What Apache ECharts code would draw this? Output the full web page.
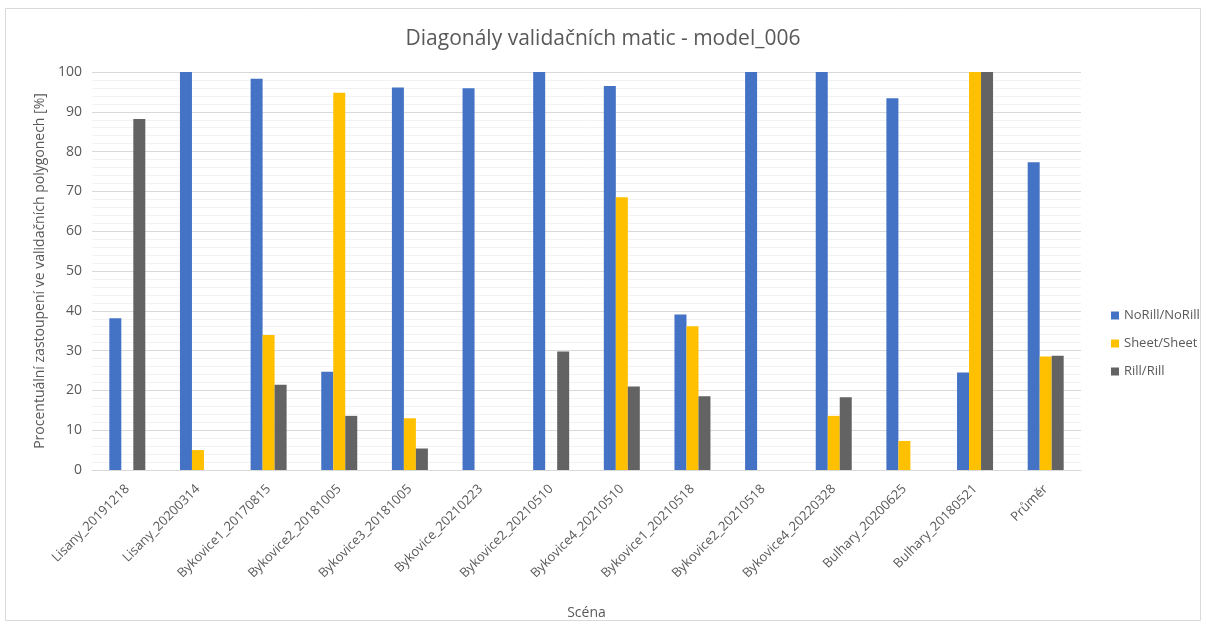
<!DOCTYPE html>
<html>
<head>
<meta charset="utf-8">
<script src="https://cdn.jsdelivr.net/npm/echarts@6/dist/echarts.min.js"></script>
<style>
  html, body { margin: 0; padding: 0; background: #fff; }
  #chart { width: 1206px; height: 628px; }
</style>
</head>
<body>
<div id="chart"></div>
<script>
// data
const sceny = [
  'Lisany_20191218', 'Lisany_20200314', 'Bykovice1_20170815', 'Bykovice2_20181005',
  'Bykovice3_20181005', 'Bykovice_20210223', 'Bykovice2_20210510', 'Bykovice4_20210510',
  'Bykovice1_20210518', 'Bykovice2_20210518', 'Bykovice4_20220328', 'Bulhary_20200625',
  'Bulhary_20180521', 'Průměr'
];
const noRill = [38.1, 100, 98.3, 24.7, 96.1, 95.9, 100, 96.5, 39.1, 100, 100, 93.4, 24.5, 77.3];
const sheet  = [0, 5.0, 33.9, 94.8, 13.0, 0, 0, 68.5, 36.1, 0, 13.6, 7.3, 100, 28.5];
const rill   = [88.2, 0, 21.4, 13.6, 5.4, 0, 29.8, 21.0, 18.5, 0, 18.3, 0, 100, 28.7];

const seriesNames = ['NoRill/NoRill', 'Sheet/Sheet', 'Rill/Rill'];
const barColors = ['#4472C4', '#FFC000', '#636363'];

const chart = echarts.init(document.getElementById('chart'), null, { renderer: 'canvas' });
const txt = '#595959';
const font = 'Open Sans';

function mkSeries(name, data, color) {
  return {
    name: name,
    type: 'bar',
    data: data,
    barWidth: 12,
    barGap: '0%',
    itemStyle: { color: color },
    emphasis: { disabled: true }
  };
}

chart.setOption({
  animation: false,
  textStyle: { fontFamily: font },
  graphic: [{
    type: 'rect',
    shape: { x: 5.5, y: 8.5, width: 1195, height: 612 },
    style: { fill: 'none', stroke: '#d9d9d9', lineWidth: 1 },
    silent: true
  }],
  title: {
    text: 'Diagonály validačních matic - model_006',
    left: 'center',
    top: 24,
    textStyle: { color: txt, fontSize: 21, fontWeight: 'normal', fontFamily: font }
  },
  legend: {
    orient: 'vertical',
    left: 1106,
    top: 304,
    icon: 'rect',
    itemWidth: 8,
    itemHeight: 8,
    itemGap: 15,
    textStyle: { color: txt, fontSize: 13, fontFamily: font },
    data: seriesNames
  },
  grid: { left: 92, right: 125, top: 72, bottom: 158 },
  xAxis: {
    type: 'category',
    data: sceny,
    name: 'Scéna',
    nameLocation: 'middle',
    nameGap: 136,
    nameTextStyle: { color: txt, fontSize: 14, fontFamily: font },
    axisTick: { show: false },
    axisLine: { lineStyle: { color: '#d9d9d9', width: 1 } },
    axisLabel: { interval: 0, rotate: 45, color: txt, fontSize: 13, margin: 17, fontFamily: font }
  },
  yAxis: {
    type: 'value',
    min: 0,
    max: 100,
    interval: 10,
    name: 'Procentuální zastoupení ve validačních polygonech [%]',
    nameLocation: 'middle',
    nameGap: 44,
    nameTextStyle: { color: txt, fontSize: 14, fontFamily: font },
    axisLine: { show: false },
    axisTick: { show: false },
    axisLabel: { color: txt, fontSize: 14, margin: 10, fontFamily: font },
    splitLine: { lineStyle: { color: '#d9d9d9', width: 1 } },
    minorTick: { show: false, splitNumber: 5 },
    minorSplitLine: { show: true, lineStyle: { color: '#f2f2f2', width: 1 } }
  },
  series: [
    mkSeries(seriesNames[0], noRill, barColors[0]),
    mkSeries(seriesNames[1], sheet, barColors[1]),
    mkSeries(seriesNames[2], rill, barColors[2])
  ]
});

window.addEventListener('resize', () => chart.resize());
</script>
</body>
</html>
